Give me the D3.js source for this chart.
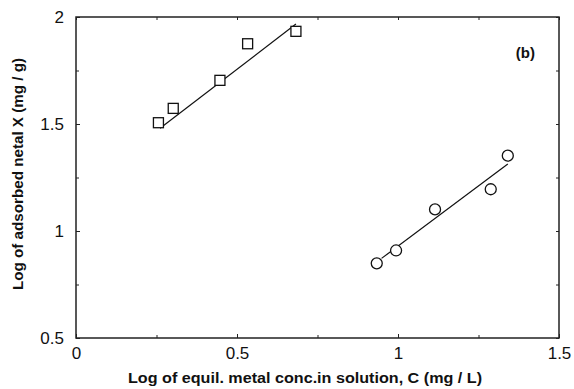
<!DOCTYPE html>
<html>
<head>
<meta charset="utf-8">
<script src="https://cdn.jsdelivr.net/npm/d3@7"></script>
<style>
  body { margin: 0; background: #fff; }
  text { font-family: "Liberation Sans", Arial, sans-serif; fill: #111; }
</style>
</head>
<body>
<div id="chart"></div>
<script>
// Declare constants
const FRAME_WIDTH = 574;
const FRAME_HEIGHT = 389;
const MARGINS = {left: 76, right: 15, top: 17, bottom: 51};
const VIS_WIDTH = FRAME_WIDTH - MARGINS.left - MARGINS.right;
const VIS_HEIGHT = FRAME_HEIGHT - MARGINS.top - MARGINS.bottom;

// data
const squareX = [0.256, 0.302, 0.447, 0.533, 0.683];
const squareY = [1.506, 1.573, 1.704, 1.875, 1.933];
const squareFitX = [0.261, 0.683];
const squareFitY = [1.48, 1.967];

const circleX = [0.934, 0.994, 1.115, 1.288, 1.341];
const circleY = [0.849, 0.909, 1.101, 1.195, 1.352];
const circleFitX = [0.949, 1.341];
const circleFitY = [0.872, 1.313];

const xTicks = [0, 0.5, 1, 1.5];
const yTicks = [0.5, 1, 1.5, 2];
const xMinor = [0.25, 0.75, 1.25];
const yMinor = [0.75, 1.25, 1.75];

const svg = d3.select("#chart")
  .append("svg")
    .attr("width", FRAME_WIDTH)
    .attr("height", FRAME_HEIGHT);

const g = svg.append("g")
    .attr("transform", `translate(${MARGINS.left},${MARGINS.top})`);

const x = d3.scaleLinear().domain([0, 1.5]).range([0, VIS_WIDTH]);
const y = d3.scaleLinear().domain([0.5, 2]).range([VIS_HEIGHT, 0]);

// axes: ticks pointing inward, mirrored on all four sides
function styleAxis(sel) {
  sel.select(".domain").remove();
  sel.selectAll("line").attr("stroke", "#222").attr("stroke-width", 1);
  sel.selectAll("text").style("font-size", "17px");
}

g.append("g").attr("transform", `translate(0,${VIS_HEIGHT})`)
  .call(d3.axisBottom(x).tickValues(xTicks).tickSize(-4).tickPadding(9).tickFormat(d3.format("")))
  .call(styleAxis);
g.append("g").attr("transform", `translate(0,${VIS_HEIGHT})`)
  .call(d3.axisBottom(x).tickValues(xMinor).tickSize(-3).tickFormat(""))
  .call(styleAxis);
g.append("g")
  .call(d3.axisTop(x).tickValues(xTicks.concat(xMinor)).tickSize(-3).tickFormat(""))
  .call(styleAxis);

g.append("g")
  .call(d3.axisLeft(y).tickValues(yTicks).tickSize(-4).tickPadding(12).tickFormat(d3.format("")))
  .call(styleAxis);
g.append("g")
  .call(d3.axisLeft(y).tickValues(yMinor).tickSize(-3).tickFormat(""))
  .call(styleAxis);
g.append("g").attr("transform", `translate(${VIS_WIDTH},0)`)
  .call(d3.axisRight(y).tickValues(yTicks.concat(yMinor)).tickSize(-3).tickFormat(""))
  .call(styleAxis);

// frame
g.append("rect")
  .attr("x", 0).attr("y", 0)
  .attr("width", VIS_WIDTH).attr("height", VIS_HEIGHT)
  .attr("fill", "none")
  .attr("stroke", "#222")
  .attr("stroke-width", 1.5);

// fit lines
const line = d3.line().x(d => x(d[0])).y(d => y(d[1]));

g.append("path")
  .datum(d3.zip(squareFitX, squareFitY))
  .attr("d", line)
  .attr("fill", "none").attr("stroke", "#111").attr("stroke-width", 1.2);

g.append("path")
  .datum(d3.zip(circleFitX, circleFitY))
  .attr("d", line)
  .attr("fill", "none").attr("stroke", "#111").attr("stroke-width", 1.2);

// square markers
const SQ = 10;
g.selectAll(".sq")
  .data(d3.zip(squareX, squareY))
  .join("rect")
    .attr("class", "sq")
    .attr("x", d => x(d[0]) - SQ / 2)
    .attr("y", d => y(d[1]) - SQ / 2)
    .attr("width", SQ).attr("height", SQ)
    .attr("fill", "#fff")
    .attr("stroke", "#111")
    .attr("stroke-width", 1.3);

// circle markers
g.selectAll(".ci")
  .data(d3.zip(circleX, circleY))
  .join("circle")
    .attr("class", "ci")
    .attr("cx", d => x(d[0]))
    .attr("cy", d => y(d[1]))
    .attr("r", 5.5)
    .attr("fill", "#fff")
    .attr("stroke", "#111")
    .attr("stroke-width", 1.3);

// panel label
svg.append("text")
  .attr("x", 535)
  .attr("y", 58)
  .attr("text-anchor", "end")
  .style("font-size", "15px")
  .style("font-weight", "bold")
  .text("(b)");

// axis titles
svg.append("text")
  .attr("x", 128)
  .attr("y", 383)
  .attr("textLength", 354)
  .attr("lengthAdjust", "spacingAndGlyphs")
  .style("font-size", "14.5px")
  .style("font-weight", "bold")
  .text("Log of equil. metal conc.in solution, C (mg / L)");

svg.append("text")
  .attr("transform", `translate(23,290) rotate(-90)`)
  .attr("textLength", 232)
  .attr("lengthAdjust", "spacingAndGlyphs")
  .style("font-size", "14.5px")
  .style("font-weight", "bold")
  .text("Log of adsorbed netal X (mg / g)");
</script>
</body>
</html>
